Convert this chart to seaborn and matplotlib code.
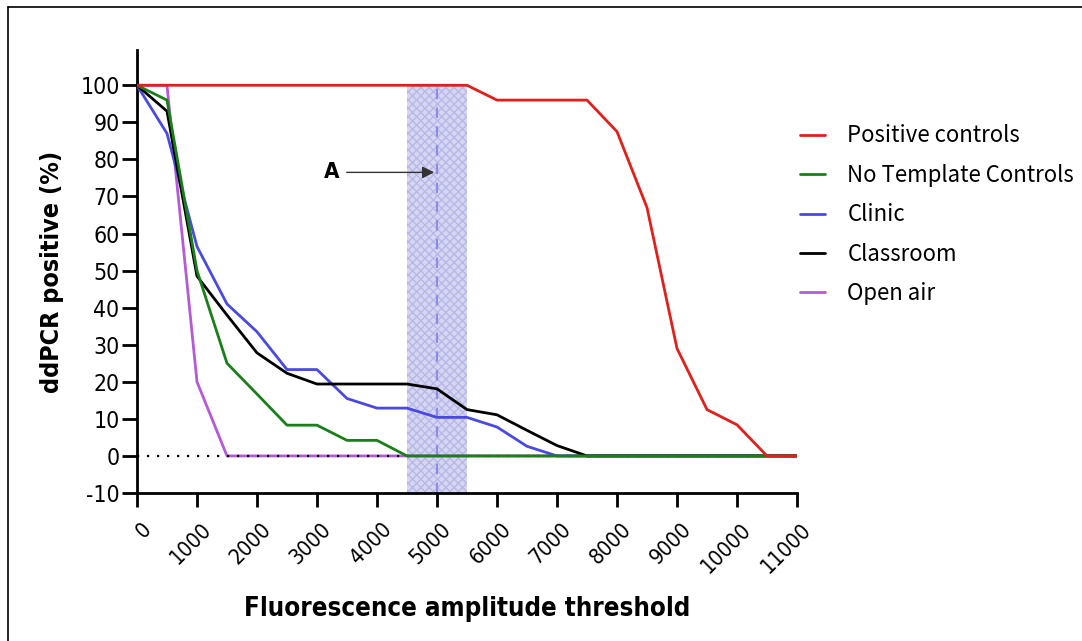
import numpy as np
import pandas as pd
import matplotlib
matplotlib.use("Agg")
import matplotlib.pyplot as plt
import matplotlib.transforms as mtransforms
import seaborn as sns
from matplotlib.lines import Line2D

# ---- data ----
thresholds = [0, 500, 1000, 1500, 2000, 2500, 3000, 3500, 4000, 4500, 5000, 5500,
              6000, 6500, 7000, 7500, 8000, 8500, 9000, 9500, 10000, 10500, 11000]
positive_controls = [100, 100, 100, 100, 100, 100, 100, 100, 100, 100, 100, 100,
                     96, 96, 96, 96, 87.5, 67, 29, 12.5, 8.4, 0, 0]
no_template = [100, 96, 50, 25, 16.7, 8.3, 8.3, 4.2, 4.2, 0, 0, 0,
               0, 0, 0, 0, 0, 0, 0, 0, 0, 0, 0]
clinic = [100, 87, 56.5, 41, 33.5, 23.3, 23.3, 15.5, 12.9, 12.9, 10.4, 10.4,
          7.8, 2.6, 0, 0, 0, 0, 0, 0, 0, 0, 0]
classroom = [100, 93, 48.5, 38, 27.8, 22.3, 19.4, 19.4, 19.4, 19.4, 18.1, 12.5,
             11.1, 6.9, 2.8, 0, 0, 0, 0, 0, 0, 0, 0]
open_air = [100, 100, 20, 0, 0, 0, 0, 0, 0, 0, 0, 0,
            0, 0, 0, 0, 0, 0, 0, 0, 0, 0, 0]
series_names = ["Positive controls", "No Template Controls", "Clinic", "Classroom", "Open air"]
series_colors = ["#e0201b", "#1a7f1a", "#4a4ae0", "#000000", "#b45ad8"]
x_ticks = list(range(0, 11001, 1000))
y_ticks = list(range(-10, 101, 10))
band = (4500, 5500)
cutoff = 5000

frames = []
for name, vals in zip(series_names, [positive_controls, no_template, clinic, classroom, open_air]):
    frames.append(pd.DataFrame({"threshold": thresholds, "pct": vals, "series": name}))
df = pd.concat(frames, ignore_index=True)

sns.set_theme(style="ticks")
plt.rcParams["font.family"] = ["DejaVu Sans"]
plt.rcParams["text.color"] = "black"
plt.rcParams["axes.labelcolor"] = "black"
plt.rcParams["xtick.color"] = "black"
plt.rcParams["ytick.color"] = "black"

fig = plt.figure(figsize=(10.82, 6.41), dpi=100)
ax = fig.add_axes([0.1266, 0.2309, 0.61, 0.691])

# shaded band and cutoff line (from -10 to 100)
ax.fill_between([band[0], band[1]], -10, 100, facecolor="#d6d6f2", edgecolor="#b8b8e8",
                hatch="xxxx", linewidth=0, zorder=1)
ax.plot([cutoff, cutoff], [-10, 100], color="#8c8ce6", linestyle=(0, (5, 4)),
        linewidth=1.5, zorder=1.5)

zorders = {"Open air": 2, "Clinic": 3, "Classroom": 4, "No Template Controls": 6,
           "Positive controls": 7}
pal = dict(zip(series_names, series_colors))
for name in ["Open air", "Clinic", "Classroom", "No Template Controls", "Positive controls"]:
    sub = df[df["series"] == name]
    sns.lineplot(data=sub, x="threshold", y="pct", color=pal[name], linewidth=2,
                 ax=ax, zorder=zorders[name], legend=False)

# dotted zero line
ax.plot([0, 11000], [0, 0], color="black", linestyle=(0, (1, 3.5)), linewidth=1.6, zorder=5)

# annotation A
ax.annotate("", xy=(cutoff, 76.5), xytext=(3450, 76.5),
            arrowprops=dict(arrowstyle="-|>", color="#333333", lw=1, mutation_scale=18),
            zorder=8)
ax.text(3250, 76.5, "A", ha="center", va="center", fontsize=16, fontweight="bold",
        fontstretch="condensed")

ax.set_xlim(0, 11000)
ax.set_ylim(-10, 109.5)
ax.set_xticks(x_ticks)
ax.set_xticklabels([str(v) for v in x_ticks], rotation=45, ha="right",
                   rotation_mode="anchor", fontsize=15.5, fontstretch="condensed")
ax.set_yticks(y_ticks)
ax.set_yticklabels([str(v) for v in y_ticks], fontsize=16.5, fontstretch="condensed")
ax.tick_params(axis="x", length=10, width=2, pad=9)
ax.tick_params(axis="y", length=11, width=2, pad=1.5)
shift = mtransforms.ScaledTranslation(4 / 100, 0, fig.dpi_scale_trans)
for lbl in ax.get_xticklabels():
    lbl.set_transform(lbl.get_transform() + shift)
for s in ["top", "right"]:
    ax.spines[s].set_visible(False)
for s in ["left", "bottom"]:
    ax.spines[s].set_linewidth(2)
    ax.spines[s].set_color("black")

ax.set_xlabel("Fluorescence amplitude threshold", fontsize=18.5, fontweight="bold",
              fontstretch="condensed", labelpad=14)
ax.set_ylabel("ddPCR positive (%)", fontsize=18, fontweight="bold",
              fontstretch="condensed", labelpad=12)

handles = [Line2D([], [], color=c, linewidth=2) for c in series_colors]
leg = fig.legend(handles, series_names, loc="upper left", bbox_to_anchor=(0.7205, 0.837),
                 frameon=False, prop={"family": ["Noto Sans CJK JP", "DejaVu Sans"], "size": 16},
                 handlelength=1.15, handletextpad=1.0, labelspacing=0.74)
for t in leg.get_texts():
    t.set_color("black")

# figure border (top and left only)
fig.add_artist(Line2D([0.0074, 1.0], [0.989, 0.989], transform=fig.transFigure,
                      color="black", linewidth=1.2))
fig.add_artist(Line2D([0.0074, 0.0074], [0.0, 0.989], transform=fig.transFigure,
                      color="black", linewidth=1.2))

fig.savefig("out.png", dpi=100)
